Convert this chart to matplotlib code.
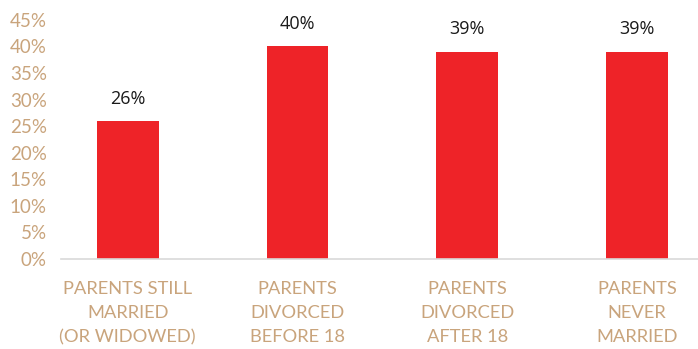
import numpy as np
import matplotlib.pyplot as plt

categories = ["PARENTS STILL\nMARRIED\n(OR WIDOWED)", "PARENTS\nDIVORCED\nBEFORE 18",
              "PARENTS\nDIVORCED\nAFTER 18", "PARENTS\nNEVER\nMARRIED"]
values = [26, 40, 39, 39]
yticks = [0, 5, 10, 15, 20, 25, 30, 35, 40, 45]

bar_color = "#EE2328"
tick_color = "#C9A47C"

fig = plt.figure(figsize=(6.98, 3.49), dpi=100)
ax = fig.add_axes([0.087, 0.258, 0.913, 0.685])

x = np.arange(len(categories))
ax.bar(x, values, width=0.365, color=bar_color, zorder=2)

# value labels above each bar
for xi, v in zip(x, values):
    ax.text(xi, v + 2.5, f"{v}%", ha="center", va="bottom", fontsize=13,
            family="Open Sans", color="#1a1a1a")

ax.set_xlim(-0.395, 3.36)
ax.set_ylim(0, 45)
ax.set_yticks(yticks)
ax.set_yticklabels([f"{t}%" for t in yticks])
ax.set_xticks(x)
ax.set_xticklabels(categories, linespacing=1.6)

for lab in ax.get_yticklabels():
    lab.set_family("Lato")
    lab.set_fontsize(13.5)
    lab.set_color(tick_color)
for lab in ax.get_xticklabels():
    lab.set_family("Lato")
    lab.set_fontsize(13.2)
    lab.set_color(tick_color)

ax.tick_params(axis="y", length=0, pad=10)
ax.tick_params(axis="x", length=0, pad=16)

for side in ["top", "right", "left"]:
    ax.spines[side].set_visible(False)
ax.spines["bottom"].set_color("#D9D9D9")
ax.spines["bottom"].set_linewidth(1.2)

fig.savefig("out.png", dpi=100)
